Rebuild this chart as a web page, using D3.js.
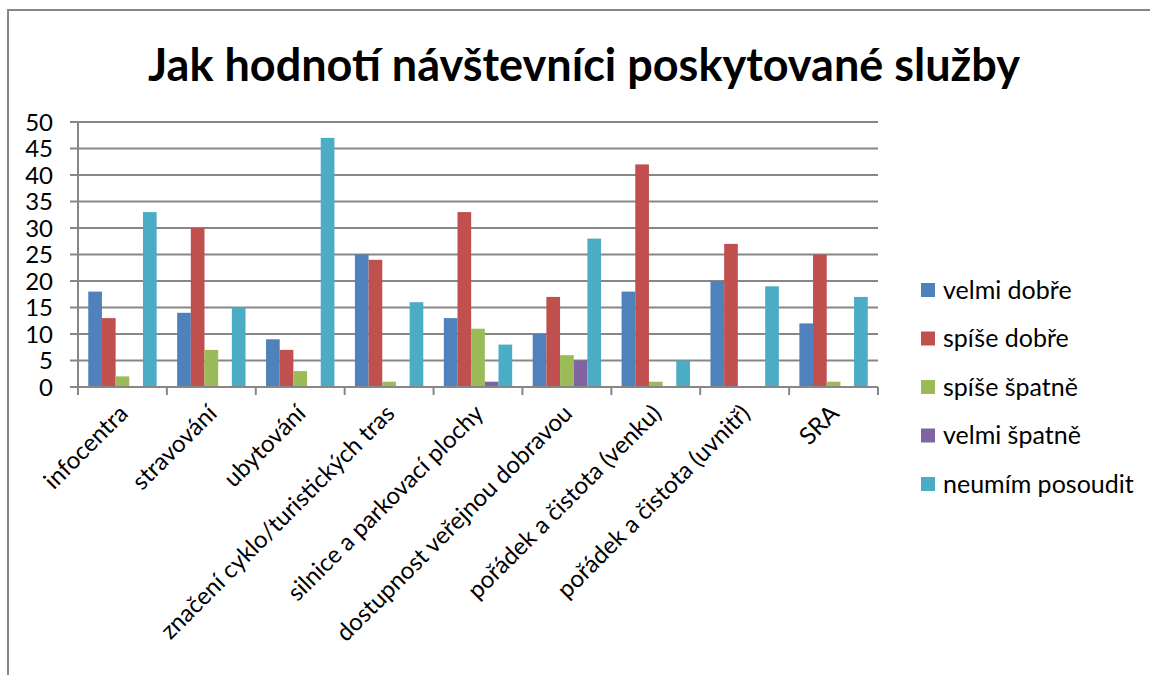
<!DOCTYPE html>
<html>
<head>
<meta charset="utf-8">
<script src="https://cdn.jsdelivr.net/npm/d3@7"></script>
<style>
  body { margin: 0; background: #fff; }
  text { font-family: Lato, "Open Sans", sans-serif; fill: #000; }
</style>
</head>
<body>
<svg id="chart" width="1150" height="675"></svg>
<script>
// data
const categories = ['infocentra', 'stravování', 'ubytování', 'značení cyklo/turistických tras',
  'silnice a parkovací plochy', 'dostupnost veřejnou dobravou', 'pořádek a čistota (venku)',
  'pořádek a čistota (uvnitř)', 'SRA'];
const series_names = ['velmi dobře', 'spíše dobře', 'spíše špatně', 'velmi špatně', 'neumím posoudit'];
const velmi_dobre = [18, 14, 9, 25, 13, 10, 18, 20, 12];
const spise_dobre = [13, 30, 7, 24, 33, 17, 42, 27, 25];
const spise_spatne = [2, 7, 3, 1, 11, 6, 1, 0, 1];
const velmi_spatne = [0, 0, 0, 0, 1, 5, 0, 0, 0];
const neumim = [33, 15, 47, 16, 8, 28, 5, 19, 17];
const y_ticks = [0, 5, 10, 15, 20, 25, 30, 35, 40, 45, 50];
const colors = ['#4F81BD', '#C0504D', '#9BBB59', '#8064A2', '#4BACC6'];

const all_series = [velmi_dobre, spise_dobre, spise_spatne, velmi_spatne, neumim];

const svg = d3.select('#chart');
const grid_color = '#878787';

// outer chart frame (extends past the window, as in the screenshot)
svg.append('rect')
  .attr('x', 8).attr('y', 10)
  .attr('width', 1200).attr('height', 700)
  .attr('fill', 'none').attr('stroke', grid_color).attr('stroke-width', 2);

svg.append('text')
  .attr('x', 584).attr('y', 81)
  .attr('text-anchor', 'middle')
  .style('font-size', '45px').style('font-weight', 'bold')
  .text('Jak hodnotí návštevníci poskytované služby');

const plot_left = 78, plot_right = 878, plot_top = 122, plot_bottom = 387;

const x0 = d3.scaleBand().domain(categories).range([plot_left, plot_right]).padding(0);
const x1 = d3.scaleBand().domain(series_names).range([0, x0.bandwidth()])
  .paddingInner(0).paddingOuter(0.75);
const y = d3.scaleLinear().domain([0, 50]).range([plot_bottom, plot_top]);

// gridlines + y labels
const yg = svg.append('g');
y_ticks.forEach(function(t) {
  yg.append('line')
    .attr('x1', plot_left - 8).attr('x2', plot_right)
    .attr('y1', y(t)).attr('y2', y(t))
    .attr('stroke', grid_color).attr('stroke-width', 2);
  yg.append('text')
    .attr('x', 53).attr('y', y(t))
    .attr('dy', '0.36em')
    .attr('text-anchor', 'end')
    .style('font-size', '24px')
    .text(t);
});

// y axis line
svg.append('line')
  .attr('x1', plot_left).attr('x2', plot_left).attr('y1', plot_top).attr('y2', plot_bottom)
  .attr('stroke', grid_color).attr('stroke-width', 2);

// bars
categories.forEach(function(c, i) {
  let g = svg.append('g').attr('transform', 'translate(' + x0(c) + ',0)');
  series_names.forEach(function(s, j) {
    let v = all_series[j][i];
    if (v <= 0) return;
    g.append('rect')
      .attr('x', x1(s)).attr('width', x1.bandwidth())
      .attr('y', y(v)).attr('height', y(0) - y(v))
      .attr('fill', colors[j]);
  });
});

// x axis line + tick marks
svg.append('line')
  .attr('x1', plot_left - 8).attr('x2', plot_right).attr('y1', plot_bottom).attr('y2', plot_bottom)
  .attr('stroke', grid_color).attr('stroke-width', 2);
const tick_pos = categories.map(function(c) { return x0(c); }).concat([plot_right]);
tick_pos.forEach(function(p) {
  svg.append('line')
    .attr('x1', p).attr('x2', p).attr('y1', plot_bottom).attr('y2', plot_bottom + 8)
    .attr('stroke', grid_color).attr('stroke-width', 2);
});

// rotated category labels
categories.forEach(function(c) {
  let cx = x0(c) + x0.bandwidth() / 2 + 1;
  let cy = plot_bottom + 22;
  svg.append('text')
    .attr('transform', 'translate(' + cx + ',' + cy + ') rotate(-45)')
    .attr('text-anchor', 'end')
    .attr('dy', '0.35em')
    .style('font-size', '24px')
    .text(c);
});

// legend
const legend = svg.append('g');
series_names.forEach(function(s, j) {
  let ly = 290 + j * 48.5;
  legend.append('rect')
    .attr('x', 921).attr('y', ly - 7)
    .attr('width', 14).attr('height', 14)
    .attr('fill', colors[j]);
  legend.append('text')
    .attr('x', 943).attr('y', ly)
    .attr('dy', '0.35em')
    .style('font-size', '25px')
    .text(s);
});
</script>
</body>
</html>
